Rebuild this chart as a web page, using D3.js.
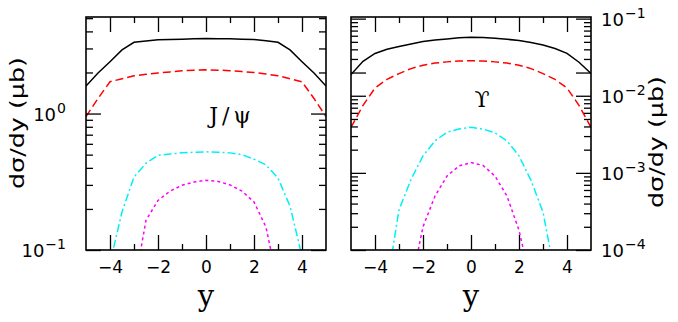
<!DOCTYPE html>
<html>
<head>
<meta charset="utf-8">
<script src="https://cdn.jsdelivr.net/npm/d3@7"></script>
<style>
body { margin: 0; background: #fff; }
svg { display: block; }
</style>
</head>
<body>
<div id="container"></div>
<script>
// rapidity grid shared by all curves
var rapidity = [-5, -4.5, -4, -3.5, -3, -2.5, -2, -1.5, -1, -0.5, 0, 0.5, 1, 1.5, 2, 2.5, 3, 3.5, 4, 4.5, 5];

// J/psi panel (mub)
var jpsiSolid   = [1.59, 1.98, 2.40, 2.93, 3.33, 3.40, 3.47, 3.49, 3.51, 3.53, 3.55, 3.54, 3.53, 3.51, 3.49, 3.42, 3.33, 2.93, 2.40, 1.98, 1.59];
var jpsiDashed  = [0.95, 1.29, 1.71, 1.80, 1.89, 1.94, 1.98, 2.02, 2.06, 2.08, 2.09, 2.08, 2.06, 2.03, 2.00, 1.95, 1.89, 1.80, 1.71, 1.29, 0.95];
var jpsiDashDot = [null, null, 0.080, 0.19, 0.343, 0.432, 0.495, 0.505, 0.515, 0.52, 0.524, 0.52, 0.515, 0.50, 0.463, 0.42, 0.336, 0.21, 0.090, null, null];
var jpsiDotted  = [null, null, null, null, 0.053, 0.165, 0.231, 0.27, 0.298, 0.315, 0.324, 0.318, 0.300, 0.27, 0.225, 0.147, 0.056, null, null, null, null];

// Upsilon panel (mub)
var upsSolid   = [0.0188, 0.0280, 0.0354, 0.0400, 0.0435, 0.0470, 0.0504, 0.0530, 0.0546, 0.0565, 0.0573, 0.0568, 0.0555, 0.0540, 0.0520, 0.0490, 0.0455, 0.0410, 0.0355, 0.0272, 0.0194];
var upsDashed  = [0.0039, 0.0075, 0.0126, 0.0163, 0.0194, 0.0225, 0.0249, 0.0265, 0.0275, 0.0282, 0.0285, 0.0282, 0.0275, 0.0265, 0.0249, 0.0225, 0.0194, 0.0163, 0.0126, 0.0075, 0.0039];
var upsDashDot = [null, null, null, 0.000035, 0.000333, 0.00082, 0.00166, 0.0026, 0.00336, 0.0037, 0.0039, 0.0037, 0.0033, 0.0026, 0.00166, 0.00080, 0.00031, 0.000047, null, null, null];
var upsDotted  = [null, null, null, null, null, 0.000035, 0.00020, 0.00050, 0.00091, 0.00123, 0.00136, 0.00125, 0.00091, 0.00050, 0.00018, 0.000038, null, null, null, null, null];

// ticks
var xMajorTicks = [-4, -2, 0, 2, 4];
var xMinorTicks = [-3, -1, 1, 3];
var jpsiDecades = [0.1, 1];
var jpsiMinor = [0.2, 0.3, 0.4, 0.5, 0.6, 0.7, 0.8, 0.9, 2, 3, 4, 5];
var upsDecades = [1e-4, 1e-3, 1e-2, 2e-2, 1e-1];
var upsMinor = [2e-4, 3e-4, 4e-4, 5e-4, 6e-4, 7e-4, 8e-4, 9e-4,
                2e-3, 3e-3, 4e-3, 5e-3, 6e-3, 7e-3, 8e-3, 9e-3,
                3e-2, 4e-2, 5e-2, 6e-2, 7e-2, 8e-2, 9e-2];
var upsLabels = [1e-4, 1e-3, 1e-2, 1e-1];

var width = 678, height = 322;
var plotTop = 17, plotBottom = 250;

var svg = d3.select('#container')
	.append('svg')
	.attr('width', width)
	.attr('height', height);

var styles = [
	{color: '#000000', dash: null},
	{color: '#ff0000', dash: '8,4'},
	{color: '#00f0f8', dash: '8,3,2,3'},
	{color: '#ff00ff', dash: '3,3'}
];

var panels = [
	{id: 'jpsi', left: 86, right: 326, domain: [0.1, 5.1], majors: jpsiDecades, minors: jpsiMinor,
	 labels: jpsiDecades, side: 'left', series: [jpsiSolid, jpsiDashed, jpsiDashDot, jpsiDotted],
	 name: 'J/ψ', nameX: 232, nameY: 123, spacing: 4},
	{id: 'ups', left: 351, right: 591, domain: [1e-4, 0.105], majors: upsDecades, minors: upsMinor,
	 labels: upsLabels, side: 'right', series: [upsSolid, upsDashed, upsDashDot, upsDotted],
	 name: 'ϒ', nameX: 482, nameY: 107, spacing: 0}
];

function expText(v) {
	var e = Math.round(Math.log10(v));
	return e < 0 ? '\u2212' + Math.abs(e) : String(e);
}

panels.forEach(function(p) {
	var x = d3.scaleLinear().domain([-5, 5]).range([p.left, p.right]);
	var y = d3.scaleLog().domain(p.domain).range([plotBottom, plotTop]);
	var g = svg.append('g').attr('class', 'panel-' + p.id);

	g.append('clipPath').attr('id', 'clip-' + p.id)
		.append('rect')
		.attr('x', p.left).attr('y', plotTop)
		.attr('width', p.right - p.left).attr('height', plotBottom - plotTop);

	var line = d3.line()
		.defined(d => d[1] != null)
		.x(d => x(d[0]))
		.y(d => y(d[1]));

	p.series.forEach(function(vals, i) {
		var pts = rapidity.map((r, k) => [r, vals[k]]);
		g.append('path')
			.attr('clip-path', 'url(#clip-' + p.id + ')')
			.attr('d', line(pts))
			.attr('fill', 'none')
			.attr('stroke', styles[i].color)
			.attr('stroke-width', 1.5)
			.attr('stroke-dasharray', styles[i].dash);
	});

	// ticks, all pointing inward
	var fmt = d => d < 0 ? '\u2212' + Math.abs(d) : d;
	var axes = [
		[d3.axisBottom(x).tickValues(xMajorTicks).tickSizeInner(-15).tickSizeOuter(0).tickPadding(11).tickFormat(fmt), 'translate(0,' + plotBottom + ')'],
		[d3.axisBottom(x).tickValues(xMinorTicks).tickSizeInner(-6).tickSizeOuter(0).tickFormat(''), 'translate(0,' + plotBottom + ')'],
		[d3.axisTop(x).tickValues(xMajorTicks).tickSizeInner(-15).tickSizeOuter(0).tickFormat(''), 'translate(0,' + plotTop + ')'],
		[d3.axisTop(x).tickValues(xMinorTicks).tickSizeInner(-6).tickSizeOuter(0).tickFormat(''), 'translate(0,' + plotTop + ')'],
		[d3.axisLeft(y).tickValues(p.majors).tickSizeInner(-15).tickSizeOuter(0).tickFormat(''), 'translate(' + p.left + ',0)'],
		[d3.axisLeft(y).tickValues(p.minors).tickSizeInner(-7).tickSizeOuter(0).tickFormat(''), 'translate(' + p.left + ',0)'],
		[d3.axisRight(y).tickValues(p.majors).tickSizeInner(-15).tickSizeOuter(0).tickFormat(''), 'translate(' + p.right + ',0)'],
		[d3.axisRight(y).tickValues(p.minors).tickSizeInner(-7).tickSizeOuter(0).tickFormat(''), 'translate(' + p.right + ',0)']
	];
	axes.forEach(function(a) {
		var ag = g.append('g').attr('transform', a[1]).call(a[0]);
		ag.select('.domain').remove();
		ag.selectAll('line').attr('stroke', '#000').attr('stroke-width', 1.3);
		ag.selectAll('text')
			.attr('fill', '#000')
			.style('font-family', 'DejaVu Sans')
			.style('font-size', '17px');
	});

	g.append('rect')
		.attr('x', p.left).attr('y', plotTop)
		.attr('width', p.right - p.left).attr('height', plotBottom - plotTop)
		.attr('fill', 'none')
		.attr('stroke', '#000')
		.attr('stroke-width', 1.6);

	// y labels 10^n
	p.labels.forEach(function(v) {
		var ty = y(v);
		var lg = g.append('g').style('font-family', 'DejaVu Sans').attr('fill', '#000');
		var base = lg.append('text').attr('y', ty + 7).style('font-size', '18px').text('10');
		var sup = lg.append('text').attr('y', ty - 1).style('font-size', '14px').text(expText(v));
		var bw = base.node().getComputedTextLength();
		var sw = sup.node().getComputedTextLength();
		if (p.side === 'left') {
			var end = 66;
			sup.attr('x', end - sw);
			base.attr('x', end - sw - bw - 1);
		} else {
			var start = p.right + 10;
			base.attr('x', start);
			sup.attr('x', start + bw + 1);
		}
	});

	// x axis title
	g.append('text')
		.attr('x', (p.left + p.right) / 2)
		.attr('y', 306)
		.attr('text-anchor', 'middle')
		.style('font-family', 'DejaVu Serif')
		.style('font-size', '29px')
		.text('y');

	// y axis title
	var titleX = p.side === 'left' ? 24 : 663;
	var titleY = p.side === 'left' ? 123 : 142;
	g.append('text')
		.attr('transform', 'translate(' + titleX + ',' + titleY + ') rotate(-90)')
		.attr('text-anchor', 'middle')
		.attr('textLength', 132)
		.attr('lengthAdjust', 'spacingAndGlyphs')
		.style('font-family', 'DejaVu Sans')
		.style('font-size', '19px')
		.text('dσ/dy (μb)');

	g.append('text')
		.attr('x', p.nameX)
		.attr('y', p.nameY)
		.attr('text-anchor', 'middle')
		.style('font-family', 'DejaVu Serif')
		.style('font-size', '22px')
		.style('letter-spacing', p.spacing + 'px')
		.text(p.name);
});
</script>
</body>
</html>
